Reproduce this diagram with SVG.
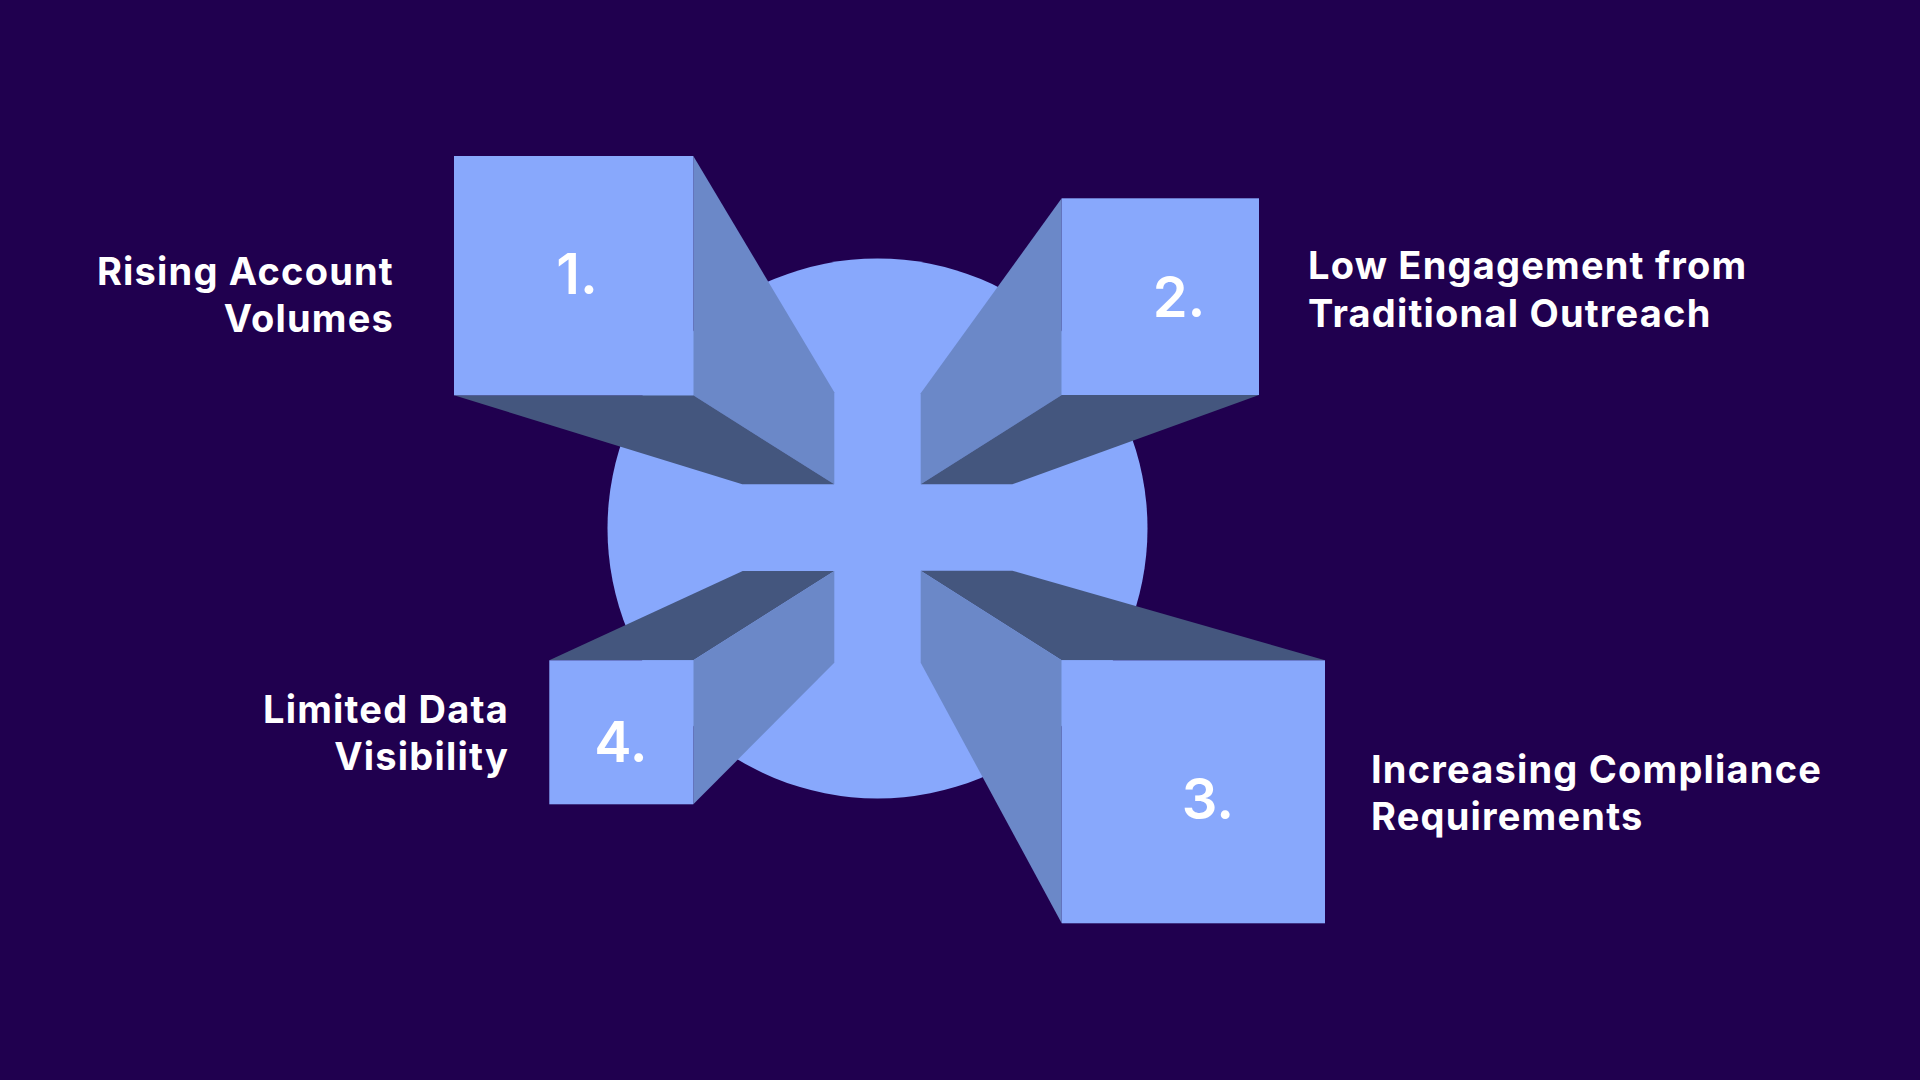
<svg xmlns="http://www.w3.org/2000/svg" width="1920" height="1080" viewBox="0 0 1920 1080">
<style>
.front{fill:#88A8FC}
.side{fill:#6B88C8}
.shade{fill:#44567E}
.num{font-family:Inter,"Noto Sans",sans-serif;font-weight:600;font-size:56px;fill:#FFFFFF;text-anchor:middle}
.lbl{font-family:Inter,"Liberation Sans",sans-serif;font-weight:700;font-size:38px;letter-spacing:1.2px;fill:#FFFFFF}
</style>
<rect width="1920" height="1080" fill="#20004F"/>
<g id="hub">
<circle cx="877.5" cy="528.5" r="270" class="front"/>
</g>
<g id="connectors"></g>
<g id="node1">
<polygon class="side" points="693.3,156 834.3,392.3 834.3,484.3 693.3,395.3"/>
<polygon class="shade" points="454,395.3 742.3,484.3 834.3,484.3 693.3,395.3"/>
<rect class="front" x="454" y="156" width="239.3" height="239.3"/>
<text class="num" x="577" y="294">1.</text>
<text class="lbl" text-anchor="end" x="394" y="285">Rising Account</text>
<text class="lbl" text-anchor="end" x="394" y="332">Volumes</text>
</g>
<g id="node2">
<polygon class="side" points="1061.7,198.3 920.7,393.3 920.7,484.3 1061.7,395"/>
<polygon class="shade" points="920.7,484.3 1012.3,484.3 1259,395 1061.7,395"/>
<rect class="front" x="1061.7" y="198.3" width="197.3" height="196.7"/>
<text class="num" x="1179" y="316.7">2.</text>
<text class="lbl" x="1308" y="279.3">Low Engagement from</text>
<text class="lbl" x="1308" y="326.7">Traditional Outreach</text>
</g>
<g id="node3">
<polygon class="shade" points="920.7,570.7 1012.3,570.7 1325,660.3 1061.7,660.3"/>
<polygon class="side" points="920.7,570.7 1061.7,660.3 1061.7,923.3 920.7,662.7"/>
<rect class="front" x="1061.7" y="660.3" width="263.3" height="263"/>
<text class="num" x="1208" y="819">3.</text>
<text class="lbl" x="1371" y="782.7">Increasing Compliance</text>
<text class="lbl" x="1371" y="830">Requirements</text>
</g>
<g id="node4">
<polygon class="shade" points="549.3,660.3 742.7,571 834.3,571 693.3,660.3"/>
<polygon class="side" points="693.3,660.3 834.3,571 834.3,662.7 693.3,804.3"/>
<rect class="front" x="549.3" y="660.3" width="144" height="144"/>
<text class="num" x="621" y="762">4.</text>
<text class="lbl" text-anchor="end" x="509" y="722.7">Limited Data</text>
<text class="lbl" text-anchor="end" x="509" y="770">Visibility</text>
</g>
</svg>
